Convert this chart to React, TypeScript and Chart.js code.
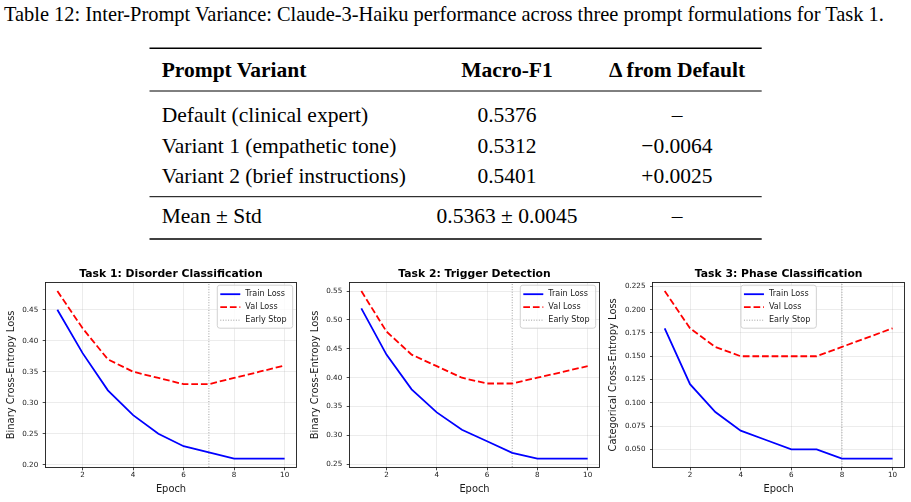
import React, { useEffect, useRef } from 'react';
import { Chart, registerables } from 'chart.js';

Chart.register(...registerables);

// ---- Table 12 contents ----
const tableCaption =
  'Table 12: Inter-Prompt Variance: Claude-3-Haiku performance across three prompt formulations for Task 1.';
const columnHeads = ['Prompt Variant', 'Macro-F1', '\u0394 from Default'];
const promptVariants = ['Default (clinical expert)', 'Variant 1 (empathetic tone)', 'Variant 2 (brief instructions)'];
const macroF1 = ['0.5376', '0.5312', '0.5401'];
const deltaFromDefault = ['\u2013', '\u22120.0064', '+0.0025'];
const summaryRow = ['Mean \u00b1 Std', '0.5363 \u00b1 0.0045', '\u2013'];

// ---- Training curves ----
const epochs = [1, 2, 3, 4, 5, 6, 7, 8, 9, 10];

const disorderTrain = [0.45, 0.38, 0.32, 0.28, 0.25, 0.23, 0.22, 0.21, 0.21, 0.21];
const disorderVal = [0.48, 0.42, 0.37, 0.35, 0.34, 0.33, 0.33, 0.34, 0.35, 0.36];
const disorderStop = 7;

const triggerTrain = [0.52, 0.44, 0.38, 0.34, 0.31, 0.29, 0.27, 0.26, 0.26, 0.26];
const triggerVal = [0.55, 0.48, 0.44, 0.42, 0.4, 0.39, 0.39, 0.4, 0.41, 0.42];
const triggerStop = 7;

const phaseTrain = [0.18, 0.12, 0.09, 0.07, 0.06, 0.05, 0.05, 0.04, 0.04, 0.04];
const phaseVal = [0.22, 0.18, 0.16, 0.15, 0.15, 0.15, 0.15, 0.16, 0.17, 0.18];
const phaseStop = 8;

const epochTicks = [2, 4, 6, 8, 10];
const disorderTicks = [0.2, 0.25, 0.3, 0.35, 0.4, 0.45];
const triggerTicks = [0.25, 0.3, 0.35, 0.4, 0.45, 0.5, 0.55];
const phaseTicks = [0.05, 0.075, 0.1, 0.125, 0.15, 0.175, 0.2, 0.225];

const SANS = '"DejaVu Sans", sans-serif';
const SERIF = '"Liberation Serif", "Times New Roman", serif';

type PanelSpec = {
  title: string;
  yLabel: string;
  train: number[];
  val: number[];
  stop: number;
  yTicks: number[];
  digits: number;
  legend: 'right' | 'center';
  left: number;
  width: number;
  plotLeft: number;
  plotRight: number;
  yTitlePad: number;
};

const PANEL_TOP = 262;
const PANEL_HEIGHT = 240;
const PLOT_TOP = 20.7;
const PLOT_BOTTOM = 205;

const panels: PanelSpec[] = [
  {
    title: 'Task 1: Disorder Classification',
    yLabel: 'Binary Cross-Entropy Loss',
    train: disorderTrain,
    val: disorderVal,
    stop: disorderStop,
    yTicks: disorderTicks,
    digits: 2,
    legend: 'right',
    left: 0,
    width: 300,
    plotLeft: 46,
    plotRight: 296,
    yTitlePad: 5.8,
  },
  {
    title: 'Task 2: Trigger Detection',
    yLabel: 'Binary Cross-Entropy Loss',
    train: triggerTrain,
    val: triggerVal,
    stop: triggerStop,
    yTicks: triggerTicks,
    digits: 2,
    legend: 'right',
    left: 300,
    width: 303,
    plotLeft: 50,
    plotRight: 299,
    yTitlePad: 9.9,
  },
  {
    title: 'Task 3: Phase Classification',
    yLabel: 'Categorical Cross-Entropy Loss',
    train: phaseTrain,
    val: phaseVal,
    stop: phaseStop,
    yTicks: phaseTicks,
    digits: 3,
    legend: 'center',
    left: 600,
    width: 311,
    plotLeft: 53.3,
    plotRight: 304,
    yTitlePad: 7.4,
  },
];

function LossPanel({ spec }: { spec: PanelSpec }) {
  const ref = useRef<HTMLCanvasElement | null>(null);

  useEffect(() => {
    if (!ref.current) return;
    const all = [...spec.train, ...spec.val];
    const lo = Math.min(...all);
    const hi = Math.max(...all);
    const pad = (hi - lo) * 0.05;
    const yMin = lo - pad;
    const yMax = hi + pad;
    const xPad = (epochs[epochs.length - 1] - epochs[0]) * 0.05;

    const frame = {
      id: 'frame',
      afterDatasetsDraw(chart: Chart) {
        const { ctx, chartArea: a } = chart;
        const l = Math.round(a.left) - 0.5;
        const r = Math.round(a.right) + 0.5;
        const t = Math.round(a.top) - 0.5;
        const b = Math.round(a.bottom) + 0.5;
        ctx.save();
        ctx.strokeStyle = '#1a1a1a';
        ctx.lineWidth = 0.9;
        ctx.strokeRect(l, t, r - l, b - t);
        ctx.restore();
      },
    };

    const heading = {
      id: 'heading',
      afterDraw(chart: Chart) {
        const { ctx, chartArea: a } = chart;
        ctx.save();
        ctx.font = `bold 10.8px ${SANS}`;
        ctx.fillStyle = '#000';
        ctx.textAlign = 'center';
        ctx.textBaseline = 'middle';
        ctx.fillText(spec.title, (a.left + a.right) / 2, 12);
        ctx.restore();
      },
    };

    const keyBox = {
      id: 'keyBox',
      afterDraw(chart: Chart) {
        const { ctx, chartArea: a } = chart;
        const items = chart.data.datasets as any[];
        ctx.save();
        ctx.font = `8.1px ${SANS}`;
        const textW = Math.max(...items.map((d) => ctx.measureText(d.label).width));
        const w = 28 + textW + 6;
        const h = 43;
        const x = spec.legend === 'right' ? a.right - 3.3 - w : (a.left + a.right) / 2 - w / 2;
        const y = a.top + 2.5;
        ctx.beginPath();
        (ctx as any).roundRect(x, y, w, h, 2.5);
        ctx.fillStyle = 'rgba(255,255,255,0.8)';
        ctx.fill();
        ctx.strokeStyle = '#cccccc';
        ctx.lineWidth = 0.9;
        ctx.stroke();
        items.forEach((d, i) => {
          const cy = y + 9 + i * 13;
          ctx.beginPath();
          ctx.strokeStyle = d.borderColor;
          ctx.lineWidth = d.borderWidth;
          ctx.setLineDash(d.borderDash || []);
          ctx.moveTo(x + 3, cy);
          ctx.lineTo(x + 23, cy);
          ctx.stroke();
          ctx.setLineDash([]);
          ctx.fillStyle = '#1a1a1a';
          ctx.textAlign = 'left';
          ctx.textBaseline = 'middle';
          ctx.fillText(d.label, x + 28, cy);
        });
        ctx.restore();
      },
    };

    const gridColor = 'rgba(176,176,176,0.3)';

    const chart = new Chart(ref.current, {
      type: 'line',
      data: {
        datasets: [
          {
            label: 'Train Loss',
            data: epochs.map((e, i) => ({ x: e, y: spec.train[i] })),
            borderColor: '#0000ff',
            borderWidth: 1.8,
            pointRadius: 0,
            fill: false,
          },
          {
            label: 'Val Loss',
            data: epochs.map((e, i) => ({ x: e, y: spec.val[i] })),
            borderColor: '#ff0000',
            borderWidth: 1.8,
            borderDash: [6.7, 2.9],
            pointRadius: 0,
            fill: false,
          },
          {
            label: 'Early Stop',
            data: [
              { x: spec.stop, y: yMin },
              { x: spec.stop, y: yMax },
            ],
            borderColor: 'rgba(128,128,128,0.75)',
            borderWidth: 1,
            borderDash: [1, 1.6],
            pointRadius: 0,
            fill: false,
          },
        ],
      },
      options: {
        animation: false,
        responsive: false,
        events: [],
        layout: {
          padding: { top: PLOT_TOP, right: spec.width - spec.plotRight, bottom: 0, left: 0 },
        },
        plugins: {
          legend: { display: false },
          title: { display: false },
          tooltip: { enabled: false },
        },
        scales: {
          x: {
            type: 'linear',
            min: epochs[0] - xPad,
            max: epochs[epochs.length - 1] + xPad,
            afterBuildTicks: (s: any) => {
              s.ticks = epochTicks.map((v) => ({ value: v }));
            },
            afterFit: (s: any) => {
              s.height = PANEL_HEIGHT - PLOT_BOTTOM;
            },
            border: { display: false },
            grid: {
              color: gridColor,
              lineWidth: 0.8,
              drawTicks: true,
              tickLength: 3.3,
              tickColor: '#1a1a1a',
              tickWidth: 0.8,
            },
            ticks: {
              font: { family: SANS, size: 7.2 },
              color: '#1a1a1a',
              padding: 1,
              maxRotation: 0,
              autoSkip: false,
              callback: (v: any) => String(v),
            },
            title: {
              display: true,
              text: 'Epoch',
              font: { family: SANS, size: 9.9 },
              color: '#1a1a1a',
              padding: { top: 0, bottom: 6.4 },
            },
          },
          y: {
            type: 'linear',
            min: yMin,
            max: yMax,
            afterBuildTicks: (s: any) => {
              s.ticks = spec.yTicks.map((v) => ({ value: v }));
            },
            afterFit: (s: any) => {
              s.width = spec.plotLeft;
            },
            border: { display: false },
            grid: {
              color: gridColor,
              lineWidth: 0.8,
              drawTicks: true,
              tickLength: 3.3,
              tickColor: '#1a1a1a',
              tickWidth: 0.8,
            },
            ticks: {
              font: { family: SANS, size: 7.2 },
              color: '#1a1a1a',
              padding: 4.5,
              autoSkip: false,
              callback: (v: any) => Number(v).toFixed(spec.digits),
            },
            title: {
              display: true,
              text: spec.yLabel,
              font: { family: SANS, size: 9.9 },
              color: '#1a1a1a',
              padding: { top: spec.yTitlePad, bottom: 0 },
            },
          },
        },
      },
      plugins: [frame, heading, keyBox],
    } as any);

    return () => chart.destroy();
  }, [spec]);

  return (
    <canvas
      ref={ref}
      width={spec.width}
      height={PANEL_HEIGHT}
      style={{ position: 'absolute', left: spec.left, top: PANEL_TOP, width: spec.width, height: PANEL_HEIGHT }}
    />
  );
}

const TABLE_LEFT = 149.5;
const TABLE_RIGHT = 761.7;
const COL1_X = 161.7;
const COL2_X = 507;
const COL3_X = 677;
const ROW_BASELINES = [122, 152.7, 183.3];

function PromptTable() {
  const fs = 21.5;
  return (
    <svg
      width={911}
      height={250}
      style={{ position: 'absolute', left: 0, top: 0 }}
      fontFamily={SERIF}
      fill="#000"
    >
      <text x={4} y={20.5} fontSize={20.4}>
        {tableCaption}
      </text>
      <line x1={TABLE_LEFT} x2={TABLE_RIGHT} y1={48.3} y2={48.3} stroke="#000" strokeWidth={1.6} />
      <text x={COL1_X} y={77.3} fontSize={fs} fontWeight="bold">
        {columnHeads[0]}
      </text>
      <text x={COL2_X} y={77.3} fontSize={fs} fontWeight="bold" textAnchor="middle">
        {columnHeads[1]}
      </text>
      <text x={COL3_X} y={77.3} fontSize={fs} fontWeight="bold" textAnchor="middle">
        {columnHeads[2]}
      </text>
      <line x1={TABLE_LEFT} x2={TABLE_RIGHT} y1={91} y2={91} stroke="#000" strokeWidth={1} />
      {promptVariants.map((name, i) => (
        <g key={name}>
          <text x={COL1_X} y={ROW_BASELINES[i]} fontSize={fs}>
            {name}
          </text>
          <text x={COL2_X} y={ROW_BASELINES[i]} fontSize={fs} textAnchor="middle">
            {macroF1[i]}
          </text>
          <text x={COL3_X} y={ROW_BASELINES[i]} fontSize={fs} textAnchor="middle">
            {deltaFromDefault[i]}
          </text>
        </g>
      ))}
      <line x1={TABLE_LEFT} x2={TABLE_RIGHT} y1={196.7} y2={196.7} stroke="#000" strokeWidth={1} />
      <text x={COL1_X} y={223.3} fontSize={fs}>
        {summaryRow[0]}
      </text>
      <text x={COL2_X} y={223.3} fontSize={fs} textAnchor="middle">
        {summaryRow[1]}
      </text>
      <text x={COL3_X} y={223.3} fontSize={fs} textAnchor="middle">
        {summaryRow[2]}
      </text>
      <line x1={TABLE_LEFT} x2={TABLE_RIGHT} y1={239} y2={239} stroke="#000" strokeWidth={1.6} />
    </svg>
  );
}

export default function App() {
  return (
    <div
      style={{
        position: 'fixed',
        left: 0,
        top: 0,
        width: 911,
        height: 502,
        background: '#fff',
        overflow: 'hidden',
      }}
    >
      <PromptTable />
      {panels.map((p) => (
        <LossPanel key={p.title} spec={p} />
      ))}
    </div>
  );
}
